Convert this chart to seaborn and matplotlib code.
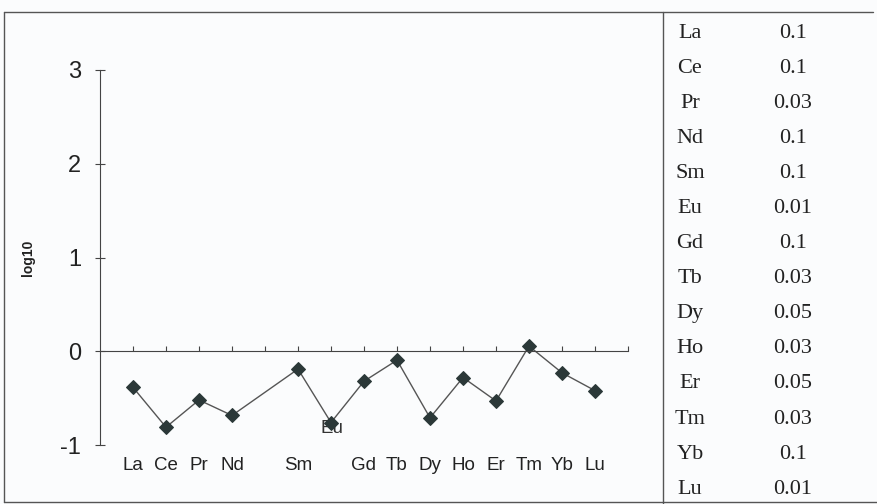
# -------------------------------------------------------
# REE pattern (log10) with detection-limit table
# -------------------------------------------------------

import numpy as np
import pandas as pd
import matplotlib
matplotlib.use("Agg")
import matplotlib.pyplot as plt
from matplotlib.lines import Line2D
import matplotlib.transforms as mtransforms
import seaborn as sns

# -------------------------------------------------------
# DATA
# -------------------------------------------------------

elements = ["La", "Ce", "Pr", "Nd", "Pm", "Sm", "Eu", "Gd",
            "Tb", "Dy", "Ho", "Er", "Tm", "Yb", "Lu"]
log_values = [-0.385, -0.81, -0.52, -0.685, np.nan, -0.19, -0.76, -0.32,
              -0.095, -0.71, -0.28, -0.53, 0.055, -0.23, -0.42]
axis_labels = ["La", "Ce", "Pr", "Nd", "", "Sm", "", "Gd",
               "Tb", "Dy", "Ho", "Er", "Tm", "Yb", "Lu"]
y_ticks = [-1, 0, 1, 2, 3]
y_tick_labels = ["-1", "0", "1", "2", "3"]

table_elements = ["La", "Ce", "Pr", "Nd", "Sm", "Eu", "Gd",
                  "Tb", "Dy", "Ho", "Er", "Tm", "Yb", "Lu"]
table_values = ["0.1", "0.1", "0.03", "0.1", "0.1", "0.01", "0.1",
                "0.03", "0.05", "0.03", "0.05", "0.03", "0.1", "0.01"]

# -------------------------------------------------------
# FIGURE SETUP
# -------------------------------------------------------

W, H = 877, 504
sns.set_style("white")
plt.rcParams["font.family"] = ["Liberation Sans", "DejaVu Sans"]
plt.rcParams["axes.unicode_minus"] = False

fig = plt.figure(figsize=(W / 100, H / 100), dpi=100, facecolor="#fbfcfd")


def fx(px):
    return px / W


def fy(py):
    return 1 - py / H


ax = fig.add_axes([fx(100), fy(445), fx(628) - fx(100), fy(70) - fy(445)])
ax.set_facecolor("none")

df = pd.DataFrame({"pos": np.arange(len(elements)), "element": elements, "value": log_values})
df = df.dropna()

sns.lineplot(data=df, x="pos", y="value", ax=ax, color="#555555", linewidth=1.0,
             marker="D", markersize=7, markerfacecolor="#2b3838",
             markeredgecolor="#2b3838", sort=False)

ax.set_xlim(-1, len(elements))
ax.set_ylim(-1, 3)

# axes styling: y-axis on the left, x-axis through zero
for side in ["top", "right"]:
    ax.spines[side].set_visible(False)
ax.spines["left"].set_color("#444444")
ax.spines["bottom"].set_color("#444444")
ax.spines["bottom"].set_position(("data", 0))

ax.set_yticks(y_ticks)
ax.set_yticklabels(y_tick_labels, fontsize=17, color="#222222")
ax.tick_params(axis="y", left=True, direction="inout", length=7, width=0.8, pad=10,
               colors="#444444", labelcolor="#222222")

ax.set_xticks(np.arange(len(elements) + 1))
ax.tick_params(axis="x", bottom=True, direction="in", length=3.5, width=0.8,
               labelbottom=False, colors="#444444")
ax.set_xlabel("")
ax.set_ylabel("log10", fontsize=10, fontweight="bold", color="#222222")
ax.yaxis.set_label_coords(-65 / 528, 0.5)

# category labels below the plot
trans = mtransforms.blended_transform_factory(ax.transData, ax.transAxes)
for i, lab in enumerate(axis_labels):
    if lab:
        ax.text(i, -0.056, lab, transform=trans, ha="center", va="center",
                fontsize=13.5, color="#222222")

# Eu label sitting on its point
eu = elements.index("Eu")
ax.annotate("Eu", xy=(eu, log_values[eu]), xytext=(1, -4), textcoords="offset points",
            ha="center", va="center", fontsize=13.5, color="#333333", zorder=1)

# -------------------------------------------------------
# FRAME LINES
# -------------------------------------------------------

frame = [
    ((4, 873), (12, 12)),
    ((4, 4), (12, 502)),
    ((663, 663), (12, 504)),
    ((4, 877), (502, 502)),
]
for xs, ys in frame:
    fig.add_artist(Line2D([fx(xs[0]), fx(xs[1])], [fy(ys[0]), fy(ys[1])],
                          transform=fig.transFigure, color="#555555", linewidth=1.0))

# -------------------------------------------------------
# RIGHT-HAND TABLE
# -------------------------------------------------------

for i, (el, val) in enumerate(zip(table_elements, table_values)):
    yy = fy(33 + 35.1 * i)
    fig.text(fx(690), yy, el, ha="center", va="center", fontsize=16,
             family=["Liberation Serif", "DejaVu Serif"], color="#222222")
    fig.text(fx(793), yy, val, ha="center", va="center", fontsize=16,
             family=["Liberation Serif", "DejaVu Serif"], color="#222222")

fig.savefig("out.png", dpi=100, facecolor=fig.get_facecolor())
